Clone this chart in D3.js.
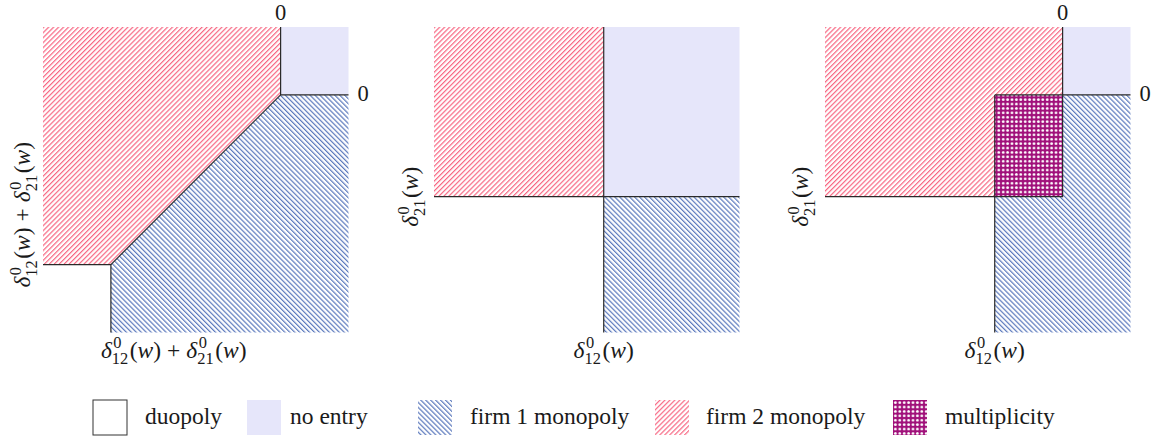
<!DOCTYPE html>
<html>
<head>
<meta charset="utf-8">
<script src="https://cdn.jsdelivr.net/npm/d3@7"></script>
<style>
  body { margin: 0; background: #fff; }
</style>
</head>
<body>
<svg id="chart"></svg>
<script>
"use strict"

// Values of the picture (deviation space, both axes)
const DOMAIN = [-3.5, 1];
const D12 = -1;     // delta^0_12(w)
const D21 = -1.5;   // delta^0_21(w)
const DSUM = D12 + D21;

// Regions for each panel: [kind, polygon in data coords]
const PANEL1_REGIONS = [
    ["firm2", [[-3.5, 1], [0, 1], [0, 0], [DSUM, DSUM], [-3.5, DSUM]]],
    ["firm1", [[0, 0], [1, 0], [1, -3.5], [DSUM, -3.5], [DSUM, DSUM]]],
    ["noentry", [[0, 0], [1, 0], [1, 1], [0, 1]]]
];
const PANEL1_LINES = [
    [[0, 1], [0, 0], [1, 0]],
    [[0, 0], [DSUM, DSUM]],
    [[-3.5, DSUM], [DSUM, DSUM], [DSUM, -3.5]]
];
const PANEL2_REGIONS = [
    ["firm2", [[-3.5, 1], [D12, 1], [D12, D21], [-3.5, D21]]],
    ["noentry", [[D12, 1], [1, 1], [1, D21], [D12, D21]]],
    ["firm1", [[D12, D21], [1, D21], [1, -3.5], [D12, -3.5]]]
];
const PANEL2_LINES = [
    [[D12, 1], [D12, -3.5]],
    [[-3.5, D21], [1, D21]]
];
const PANEL3_REGIONS = [
    ["firm2", [[-3.5, 1], [0, 1], [0, D21], [-3.5, D21]]],
    ["firm1", [[D12, 0], [1, 0], [1, -3.5], [D12, -3.5]]],
    ["noentry", [[0, 0], [1, 0], [1, 1], [0, 1]]],
    ["multi", [[D12, 0], [0, 0], [0, D21], [D12, D21]]]
];
const PANEL3_LINES = [
    [[0, 1], [0, 0], [1, 0]],
    [[-3.5, D21], [D12, D21], [D12, -3.5]],
    [[D12, 0], [0, 0], [0, D21], [D12, D21], [D12, 0]]
];

const LEGEND_KEYS = ["duopoly", "noentry", "firm1", "firm2", "multi"];
const LEGEND_NAMES = ["duopoly", "no entry", "firm 1 monopoly", "firm 2 monopoly", "multiplicity"];

// Math labels as token lists
const LABEL_D12 = [{t: "δ", it: true}, {sup: "0", sub: "12"}, {t: "("}, {t: "w", it: true}, {t: ")"}];
const LABEL_D21 = [{t: "δ", it: true}, {sup: "0", sub: "21"}, {t: "("}, {t: "w", it: true}, {t: ")"}];
const LABEL_SUM = LABEL_D12.concat([{t: "+", lpad: 6, pad: 6}], LABEL_D21);

// Layout
const WIDTH = 1158, HEIGHT = 437;
const PANEL_X = [43, 434, 825];
const PANEL_Y = 27;
const PANEL_SIZE = 305.5;
const LEGEND_X = [93, 247, 418, 655, 893];
const LEGEND_TEXT_X = [145, 290, 470, 706, 945];
const FONT = 23.5;
const FAMILY = "'Liberation Serif'";
const INK = "#1a1a1a";

const FILLS = {
    duopoly: "#fff",
    noentry: "#e6e6fa",
    firm1: "url(#hatch-blue)",
    firm2: "url(#hatch-red)",
    multi: "url(#dots-purple)"
};

const svg = d3.select("#chart")
    .attr("width", WIDTH).attr("height", HEIGHT);

const x = d3.scaleLinear(DOMAIN, [0, PANEL_SIZE]);
const y = d3.scaleLinear(DOMAIN, [PANEL_SIZE, 0]);

// Patterns
const defs = svg.append("defs");
function hatch(id, color, angle) {
    const s = 3.5;
    const p = defs.append("pattern")
        .attr("id", id)
        .attr("patternUnits", "userSpaceOnUse")
        .attr("width", s).attr("height", s)
        .attr("patternTransform", `rotate(${angle})`);
    p.append("rect").attr("width", s).attr("height", s).attr("fill", "#fff");
    p.append("rect").attr("width", 1.2).attr("height", s).attr("fill", color);
}
hatch("hatch-red", "#f76682", 45);
hatch("hatch-blue", "#5a78bc", -45);
const dots = defs.append("pattern")
    .attr("id", "dots-purple")
    .attr("patternUnits", "userSpaceOnUse")
    .attr("width", 4.4).attr("height", 4.4);
dots.append("rect").attr("width", 4.4).attr("height", 4.4).attr("fill", "#a0107a");
dots.append("circle").attr("cx", 2.2).attr("cy", 2.2).attr("r", 1.4).attr("fill", "#fff");

const line = d3.line().x(d => x(d[0])).y(d => y(d[1]));

function addText(parent, size) {
    return parent.append("text")
        .attr("font-family", FAMILY)
        .attr("font-size", size)
        .attr("fill", INK);
}

function mathText(parent, parts, size) {
    const g = parent.append("g");
    let cx = 0;
    parts.forEach(p => {
        if (p.sup !== undefined) {
            const a = addText(g, size * 0.7).attr("x", cx + 1.5).attr("y", -size * 0.4).text(p.sup);
            const b = addText(g, size * 0.7).attr("x", cx).attr("y", size * 0.28).text(p.sub);
            cx += Math.max(a.node().getComputedTextLength() + 1.5, b.node().getComputedTextLength()) + 1.5;
        } else {
            cx += p.lpad || 0;
            const t = addText(g, size).attr("x", cx)
                .attr("font-style", p.it ? "italic" : "normal").text(p.t);
            cx += t.node().getComputedTextLength() + (p.pad || 0);
        }
    });
    return {g: g, width: cx};
}

function drawPanel(i, regions, lines) {
    const g = svg.append("g").attr("transform", `translate(${PANEL_X[i]},${PANEL_Y})`);
    g.append("g").selectAll("path")
        .data(regions)
        .join("path")
        .attr("d", d => line(d[1]) + "Z")
        .attr("fill", d => FILLS[d[0]]);
    g.append("g").selectAll("path")
        .data(lines)
        .join("path")
        .attr("d", d => line(d))
        .attr("fill", "none")
        .attr("stroke", "#2a2a2a")
        .attr("stroke-width", 1.2);
    return g;
}

function zeroLabels(g) {
    addText(g, FONT - 1).attr("x", x(0)).attr("y", -7)
        .attr("text-anchor", "middle").text("0");
    addText(g, FONT - 1).attr("x", x(1) + 9).attr("y", y(0) + 6).text("0");
}

function xLabel(g, parts, cx, anchorLeft) {
    const m = mathText(g, parts, FONT);
    const left = anchorLeft ? cx : cx - m.width / 2;
    m.g.attr("transform", `translate(${left},${PANEL_SIZE + 25})`);
}

function yLabel(g, parts, bx, cy, fromBottom) {
    const m = mathText(g, parts, FONT);
    const shift = fromBottom ? 0 : -m.width / 2;
    m.g.attr("transform", `translate(${bx},${cy}) rotate(-90) translate(${shift},0)`);
}

const p1 = drawPanel(0, PANEL1_REGIONS, PANEL1_LINES);
zeroLabels(p1);
xLabel(p1, LABEL_SUM, x(DSUM) - 10, true);
yLabel(p1, LABEL_SUM, -13, y(DSUM) + 23, true);

const p2 = drawPanel(1, PANEL2_REGIONS, PANEL2_LINES);
xLabel(p2, LABEL_D12, x(D12), false);
yLabel(p2, LABEL_D21, -16, y(D21), false);

const p3 = drawPanel(2, PANEL3_REGIONS, PANEL3_LINES);
zeroLabels(p3);
xLabel(p3, LABEL_D12, x(D12), false);
yLabel(p3, LABEL_D21, -17, y(D21), false);

// Legend
const legend = svg.append("g");
LEGEND_KEYS.forEach((k, i) => {
    legend.append("rect")
        .attr("x", LEGEND_X[i]).attr("y", 400)
        .attr("width", 34).attr("height", 35)
        .attr("fill", FILLS[k])
        .attr("stroke", k === "duopoly" ? "#333" : "none")
        .attr("stroke-width", 1);
    addText(legend, FONT)
        .attr("x", LEGEND_TEXT_X[i]).attr("y", 424)
        .text(LEGEND_NAMES[i]);
});
</script>
</body>
</html>
